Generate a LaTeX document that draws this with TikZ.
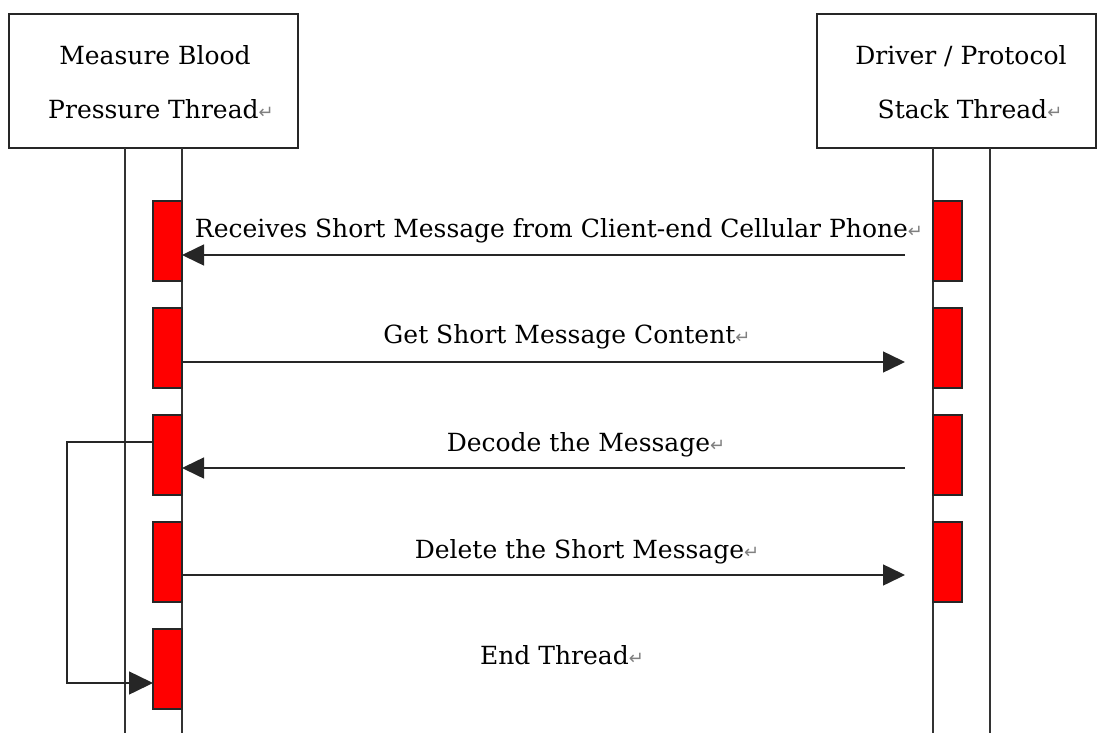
\documentclass[tikz,border=0pt]{standalone}
\usepackage{fontspec}
\setmainfont{DejaVu Serif}
\newfontfamily\symfont{DejaVu Sans}
\usetikzlibrary{arrows.meta}
\newcommand{\ret}{{\symfont\color{gray}\fontsize{18}{18}\selectfont\char"21B5}}
\tikzset{
  every node/.style={inner sep=0pt, outer sep=0pt},
  lbl/.style={font=\fontsize{25}{25}\selectfont, anchor=base},
  thread/.style={draw=black!85, line width=1.5pt, fill=white, minimum height=134pt},
  life/.style={draw=black!80, line width=1.7pt},
  bar/.style={draw=black!85, line width=1.3pt, fill=red, minimum width=29pt, minimum height=80pt},
  msg/.style={draw=black!85, line width=1.5pt, -{Triangle[length=22pt,width=21pt]}},
  loopmsg/.style={draw=black!85, line width=1.5pt, -{Triangle[length=24pt,width=23pt]}}
}
\begin{document}
\begin{tikzpicture}[x=1pt,y=-1pt]
\useasboundingbox (0,0) rectangle (1097,733);
% thread boxes
\node[thread, minimum width=289pt] (tA) at (153.5,81) {};
\node[thread, minimum width=279pt] (tB) at (956.5,81) {};
\node[lbl] (tA1) at (155,65) {Measure Blood};
\node[lbl] (tA2) at (161,118) {Pressure Thread\ret};
\node[lbl] (tB1) at (961,65) {Driver / Protocol};
\node[lbl] (tB2) at (970,118) {Stack Thread\ret};
% lifelines
\coordinate (eA1) at (125,733);
\coordinate (eA2) at (182,733);
\coordinate (eB1) at (933,733);
\coordinate (eB2) at (990,733);
\draw[life] (tA.south -| eA1) -- (eA1);
\draw[life] (tA.south -| eA2) -- (eA2);
\draw[life] (tB.south -| eB1) -- (eB1);
\draw[life] (tB.south -| eB2) -- (eB2);
% activation bars
\node[bar] (L1) at (167.5,241) {};
\node[bar] (L2) at (167.5,348) {};
\node[bar] (L3) at (167.5,455) {};
\node[bar] (L4) at (167.5,562) {};
\node[bar] (L5) at (167.5,669) {};
\node[bar] (R1) at (947.5,241) {};
\node[bar] (R2) at (947.5,348) {};
\node[bar] (R3) at (947.5,455) {};
\node[bar] (R4) at (947.5,562) {};
% messages
\coordinate (m1) at (905,255);
\coordinate (m2) at (905,362);
\coordinate (m3) at (905,468);
\coordinate (m4) at (905,575);
\draw[msg] (m1) -- (m1 -| L1.east);
\draw[msg] (m2 -| L2.east) -- (m2);
\draw[msg] (m3) -- (m3 -| L3.east);
\draw[msg] (m4 -| L4.east) -- (m4);
\node[lbl] (t1) at (559,237) {Receives Short Message from Client-end Cellular Phone\ret};
\node[lbl] (t2) at (567,343) {Get Short Message Content\ret};
\node[lbl] (t3) at (586,451) {Decode the Message\ret};
\node[lbl] (t4) at (587,558) {Delete the Short Message\ret};
\node[lbl] (t5) at (562,664) {End Thread\ret};
% loop
\coordinate (lp1) at (67,442);
\coordinate (lp2) at (67,683);
\draw[loopmsg] (L3.west |- lp1) -- (lp1) -- (lp2) -- (lp2 -| L5.west);
\end{tikzpicture}
\end{document}
